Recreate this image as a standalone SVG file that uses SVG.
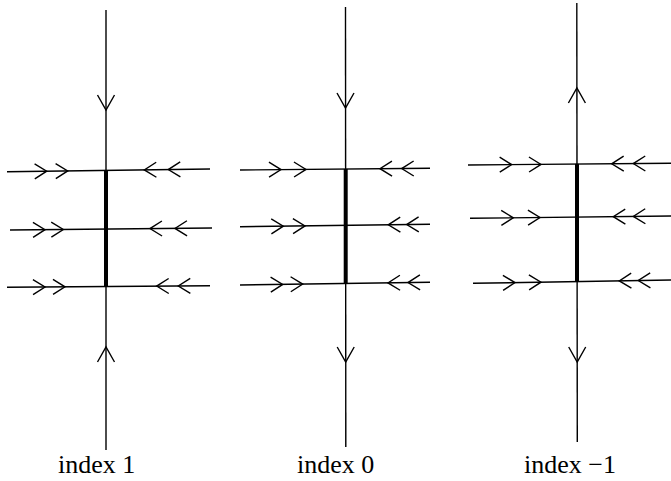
<svg xmlns="http://www.w3.org/2000/svg" width="671" height="481" viewBox="0 0 671 481">
<style>
.ln{stroke:#000;stroke-width:1.4;fill:none;stroke-linecap:butt}
.thick{stroke:#000;stroke-width:4;fill:none}
.ch{stroke:#000;stroke-width:1.4;fill:none;stroke-linejoin:miter}
text{font-family:'Liberation Serif','Times New Roman','DejaVu Serif',serif;font-size:26px;fill:#000}
</style>
<defs>
<path id="hc" class="ch" d="M-12,-7.5 L0,0 L-12,7.5"/>
<path id="vc" class="ch" d="M-15,-8.5 L0,0 L-15,8.5"/>
</defs>
<rect width="671" height="481" fill="#fff"/>
<g id="connectors">
<line class="ln" x1="106" y1="10" x2="106" y2="450"/>
<line class="ln" x1="7" y1="171.7" x2="210" y2="169"/>
<line class="ln" x1="10" y1="230" x2="212" y2="228"/>
<line class="ln" x1="7" y1="287.3" x2="210" y2="285.7"/>
<use href="#vc" transform="translate(106,110) rotate(90)"/>
<use href="#vc" transform="translate(106,347) rotate(-90)"/>
<use href="#hc" transform="translate(46.7,171.2) rotate(-0.76)"/>
<use href="#hc" transform="translate(67.7,170.9) rotate(-0.76)"/>
<use href="#hc" transform="translate(144.3,169.9) rotate(179.24)"/>
<use href="#hc" transform="translate(168.3,169.6) rotate(179.24)"/>
<use href="#hc" transform="translate(45,229.7) rotate(-0.57)"/>
<use href="#hc" transform="translate(63.3,229.5) rotate(-0.57)"/>
<use href="#hc" transform="translate(150,228.6) rotate(179.43)"/>
<use href="#hc" transform="translate(175,228.4) rotate(179.43)"/>
<use href="#hc" transform="translate(45,287) rotate(-0.45)"/>
<use href="#hc" transform="translate(65,286.8) rotate(-0.45)"/>
<use href="#hc" transform="translate(156.7,286.1) rotate(179.55)"/>
<use href="#hc" transform="translate(178.3,286) rotate(179.55)"/>
<line class="ln" x1="345.5" y1="7" x2="345.8" y2="447"/>
<line class="ln" x1="240" y1="170" x2="430" y2="168.3"/>
<line class="ln" x1="240" y1="226.7" x2="430" y2="224.3"/>
<line class="ln" x1="240" y1="285" x2="430" y2="282.3"/>
<use href="#vc" transform="translate(345.5,108) rotate(90)"/>
<use href="#vc" transform="translate(345.7,362) rotate(90)"/>
<use href="#hc" transform="translate(281,169.6) rotate(-0.5)"/>
<use href="#hc" transform="translate(306,169.4) rotate(-0.5)"/>
<use href="#hc" transform="translate(380,168.7) rotate(179.5)"/>
<use href="#hc" transform="translate(401.7,168.6) rotate(179.5)"/>
<use href="#hc" transform="translate(283.3,226.2) rotate(-0.72)"/>
<use href="#hc" transform="translate(305,225.9) rotate(-0.72)"/>
<use href="#hc" transform="translate(388.3,224.8) rotate(179.28)"/>
<use href="#hc" transform="translate(406.7,224.6) rotate(179.28)"/>
<use href="#hc" transform="translate(282.7,284.4) rotate(-0.81)"/>
<use href="#hc" transform="translate(302.7,284.1) rotate(-0.81)"/>
<use href="#hc" transform="translate(388,282.9) rotate(179.19)"/>
<use href="#hc" transform="translate(408,282.6) rotate(179.19)"/>
<line class="ln" x1="576.8" y1="3" x2="577.3" y2="442"/>
<line class="ln" x1="468" y1="165" x2="671" y2="163.3"/>
<line class="ln" x1="470" y1="218.3" x2="671" y2="216"/>
<line class="ln" x1="473" y1="283.3" x2="671" y2="280"/>
<use href="#vc" transform="translate(576.9,88) rotate(-90)"/>
<use href="#vc" transform="translate(577.2,362) rotate(90)"/>
<use href="#hc" transform="translate(511.7,164.6) rotate(-0.48)"/>
<use href="#hc" transform="translate(541,164.4) rotate(-0.48)"/>
<use href="#hc" transform="translate(611.7,163.8) rotate(179.52)"/>
<use href="#hc" transform="translate(633.3,163.6) rotate(179.52)"/>
<use href="#hc" transform="translate(513.3,217.8) rotate(-0.66)"/>
<use href="#hc" transform="translate(540,217.5) rotate(-0.66)"/>
<use href="#hc" transform="translate(613.3,216.7) rotate(179.34)"/>
<use href="#hc" transform="translate(633.3,216.4) rotate(179.34)"/>
<use href="#hc" transform="translate(515,282.6) rotate(-0.95)"/>
<use href="#hc" transform="translate(541,282.2) rotate(-0.95)"/>
<use href="#hc" transform="translate(619.3,280.9) rotate(179.05)"/>
<use href="#hc" transform="translate(638.3,280.5) rotate(179.05)"/>
</g>
<g id="node-index1">
<line class="thick" x1="106" y1="170.4" x2="106" y2="286.5"/>
<text x="58" y="473">index 1</text>
</g>
<g id="node-index0">
<line class="thick" x1="345.7" y1="169" x2="345.7" y2="283.5"/>
<text x="297" y="473">index 0</text>
</g>
<g id="node-index-1">
<line class="thick" x1="577" y1="163.9" x2="577" y2="281.8"/>
<text x="524" y="473">index −1</text>
</g>
</svg>
